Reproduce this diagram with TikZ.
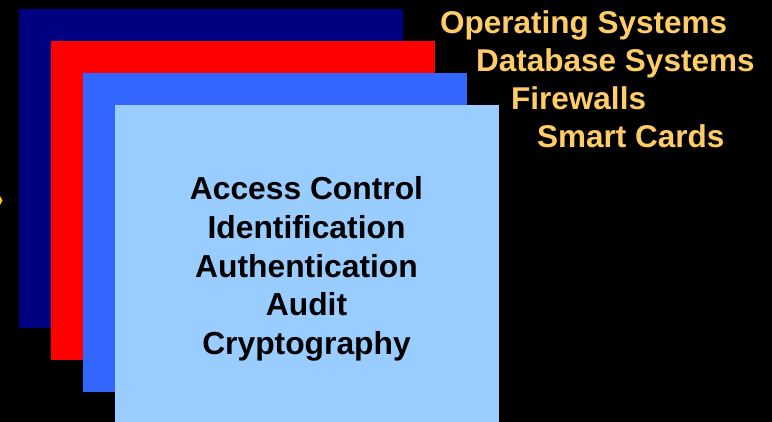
\documentclass[tikz,border=0pt]{standalone}
\usepackage{fontspec}
\setmainfont{Liberation Sans}
\usetikzlibrary{positioning}

\definecolor{layernavy}{RGB}{0,0,128}
\definecolor{layerred}{RGB}{255,0,0}
\definecolor{layerblue}{RGB}{51,102,255}
\definecolor{layerlight}{RGB}{153,204,255}
\definecolor{topicorange}{RGB}{255,204,102}
\definecolor{bulletyellow}{RGB}{255,204,0}

\tikzset{
  topic/.style={anchor=base west, inner sep=0pt, text=topicorange,
    font=\fontsize{31.5}{38}\selectfont\bfseries},
  core/.style={align=center, inner sep=0pt, text=black,
    font=\fontsize{31.8}{38.8}\selectfont\bfseries}
}

\begin{document}
\begin{tikzpicture}[x=1pt,y=-1pt]
  \fill [black] (0,0) rectangle (772,422);
  \useasboundingbox (0,0) rectangle (772,422);

  % stacked layers, back to front
  \fill [layernavy] (19,9) rectangle (403,328);
  \fill [layerred] (51,41) rectangle (435,360);
  \fill [layerblue] (83,73) rectangle (467,392);
  \fill [layerlight] (115,105) rectangle (499,422);

  % cut-off bullet at the left edge
  \fill [bulletyellow] (0,196) -- (2.5,200.5) -- (0,205) -- cycle;

  \node [core] (services) at (306.5,269)
    {Access Control\\Identification\\Authentication\\Audit\\Cryptography};

  \node [topic] (os) at (440,34) {Operating Systems};
  \node [topic] (dbs) at (476,72) {Database Systems};
  \node [topic] (fw) at (511,110) {Firewalls};
  \node [topic] (cards) at (537,148) {Smart Cards};
\end{tikzpicture}
\end{document}
